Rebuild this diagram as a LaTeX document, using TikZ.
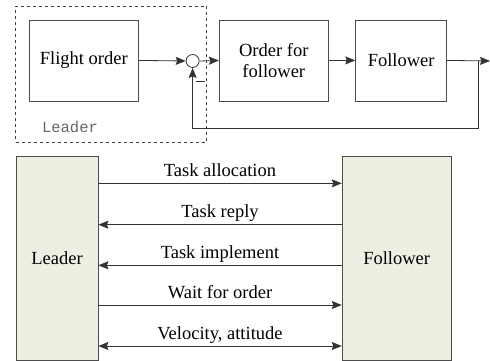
\documentclass[tikz,border=0pt]{standalone}
\usepackage{fontspec}
\setmainfont{Liberation Serif}
\setmonofont{Liberation Mono}
\usetikzlibrary{arrows.meta,calc}
\definecolor{boxfill}{RGB}{236,239,225}
\tikzset{
  ln/.style={draw=black!80, line width=0.8pt},
  tip/.tip={Stealth[length=10pt,width=8pt,inset=1.5pt]},
  arr/.style={ln, -tip},
  barr/.style={ln, tip-tip},
  blk/.style={ln, draw=black!70, minimum height=81pt, inner sep=0pt, align=center},
  gbox/.style={ln, draw=black!70, fill=boxfill, minimum height=204pt, inner sep=0pt},
  lbl/.style={anchor=base, inner sep=0pt}
}
\begin{document}
\begin{tikzpicture}[x=1pt,y=-1pt,font=\fontsize{18.5}{22}\selectfont]
\useasboundingbox (0,0) rectangle (490,360);
% top block diagram
\node[ln, draw=black!75, dashed, minimum width=191pt, minimum height=136pt, inner sep=0pt] (ldr) at (111.2,74.2) {};
\node[blk, minimum width=109pt] (fo) at (83.8,60.4) {Flight order};
\node[blk, minimum width=109pt, align=center] (ofo) at (273.8,60.4) {Order for\\[-1pt]follower};
\node[blk, minimum width=91pt] (fol) at (401.2,60.4) {Follower};
\node[ln, circle, minimum size=13pt, inner sep=0pt] (sum) at (192.6,61) {};
\node[font=\ttfamily\fontsize{15.5}{18}\selectfont, text=black!60] (ll) at (70,127) {Leader};
\coordinate (out) at (490,61);
\coordinate (br) at (478,61);
\coordinate (fb) at (478,128);
\coordinate (m1) at (196,81);
\coordinate (m2) at (205,81);
\draw[arr] (fo.east) -- (sum.west);
\draw[arr] (sum.east) -- (ofo.west);
\draw[arr] (ofo.east) -- (fol.west);
\draw[arr] (fol.east) -- (out);
\draw[arr] (br) -- (fb) -| (sum.south);
\draw[ln] (m1) -- (m2);
% bottom interaction diagram
\node[gbox, minimum width=82pt] (L) at (57,258) {Leader};
\node[gbox, minimum width=109pt] (F) at (396.7,258) {Follower};
\draw[arr] (L.east |- 0,183.3) -- (F.west |- 0,183.3);
\draw[arr] (F.west |- 0,224.7) -- (L.east |- 0,224.7);
\draw[arr] (F.west |- 0,265.3) -- (L.east |- 0,265.3);
\draw[arr] (L.east |- 0,305) -- (F.west |- 0,305);
\draw[barr] (L.east |- 0,346) -- (F.west |- 0,346);
\node[lbl] (t1) at (220,176.5) {Task allocation};
\node[lbl] (t2) at (220,217.5) {Task reply};
\node[lbl] (t3) at (220,258) {Task implement};
\node[lbl] (t4) at (220,298) {Wait for order};
\node[lbl] (t5) at (220,339) {Velocity, attitude};
\end{tikzpicture}
\end{document}
